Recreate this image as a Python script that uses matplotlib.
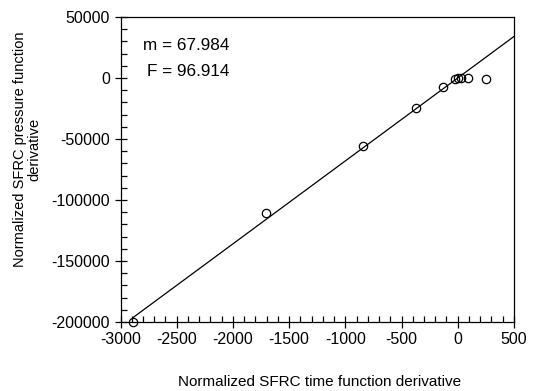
import numpy as np
import matplotlib
matplotlib.use('Agg')
import matplotlib.pyplot as plt
from matplotlib.ticker import MultipleLocator

# data
time_deriv = [-2886, -1706, -846, -372, -129, -25, 4, 28, 93, 251]
pressure_deriv = [-200000, -111000, -55500, -24300, -7100, -800, -250, -250, -250, -800]
slope = 67.984
f_stat = 96.914
line_x = [-2886, 500]

plt.rcParams['font.family'] = ['Liberation Sans', 'DejaVu Sans']
plt.rcParams['axes.unicode_minus'] = False

fig = plt.figure(figsize=(5.37, 3.91), dpi=100)
ax = fig.add_axes([0.2244, 0.1765, 0.7326, 0.780])

ax.plot(line_x, [slope * x for x in line_x], c='black', lw=0.9)
ax.plot(time_deriv, pressure_deriv, 'o', mfc='none', mec='black', ms=6, mew=0.9,
        clip_on=False, zorder=3)

ax.set_xlim(-3000, 500)
ax.set_ylim(-200000, 50000)
ax.xaxis.set_major_locator(MultipleLocator(500))
ax.xaxis.set_minor_locator(MultipleLocator(100))
ax.yaxis.set_major_locator(MultipleLocator(50000))
ax.yaxis.set_minor_locator(MultipleLocator(10000))
ax.tick_params(which='major', direction='inout', length=8, width=0.9, labelsize=11.5,
               top=False, right=False)
ax.tick_params(which='minor', direction='in', length=4, width=0.9, top=False, right=False)
for s in ax.spines.values():
    s.set_linewidth(0.9)

ax.text(0.278, 0.908, 'm = {:.3f}'.format(slope), transform=ax.transAxes,
        ha='right', va='center', fontsize=12.3)
ax.text(0.278, 0.820, 'F = {:.3f}'.format(f_stat), transform=ax.transAxes,
        ha='right', va='center', fontsize=12.3)

ax.set_xlabel('Normalized SFRC time function derivative', fontsize=11, va='center')
ax.xaxis.set_label_coords(0.507, -0.197)
ax.set_ylabel('Normalized SFRC pressure function\nderivative', fontsize=10.5,
              linespacing=1.0)
ax.yaxis.set_label_coords(-0.202, 0.567)

fig.savefig('out.png', dpi=100)
